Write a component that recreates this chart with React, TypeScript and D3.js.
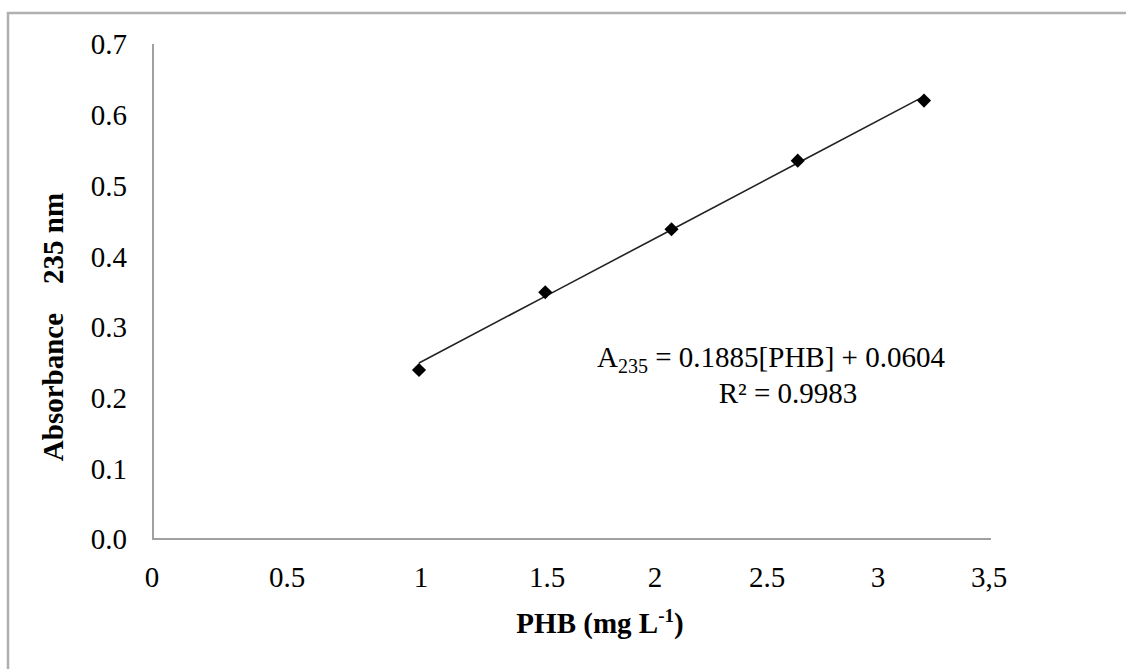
import React from "react";
import { scaleLinear, line, symbol, symbolSquare } from "d3";

// calibration points
const phb = [1, 1.5, 2, 2.5, 3];
const absorbance = [0.239, 0.349, 0.438, 0.535, 0.62];

// linear fit printed on the chart
const slope = 0.1885;
const intercept = 0.0604;
const rSquared = "0.9983";

const xTicks = [0, 0.5, 1, 1.5, 2, 2.5, 3, 3.5];
const xTickLabels = ["0", "0.5", "1", "1.5", "2", "2.5", "3", "3,5"];
const yTicks = [0, 0.1, 0.2, 0.3, 0.4, 0.5, 0.6, 0.7];

const W = 1126;
const H = 669;
const plot = { left: 153, right: 991, top: 44, bottom: 539 };
const font = "'Liberation Serif', 'Times New Roman', serif";
const axisGrey = "#a0a0a0";

function App() {
  // the source figure's tick labels do not sit under its points,
  // so labels and markers each get their own scale
  const xLabel = scaleLinear()
    .domain(xTicks)
    .range([152, 287, 421, 547, 655, 767, 878, 989]);
  const x = scaleLinear().domain([1, 3]).range([419, 924]);
  const y = scaleLinear().domain([0, 0.7]).range([plot.bottom, plot.top]);

  const fit = phb.map((v) => [v, slope * v + intercept]);
  const fitLine = line()
    .x((d) => x(d[0]))
    .y((d) => y(d[1]));

  // Excel style diamond = rotated square
  const diamond = symbol().type(symbolSquare).size(100)();

  return (
    <svg
      width={W}
      height={H}
      style={{ position: "absolute", left: 0, top: 0, background: "#fff" }}
      fontFamily={font}
    >
      {/* outer chart frame, only top and left edges show */}
      <path
        d={`M8,${H} V13 H${W}`}
        fill="none"
        stroke="#b0b0b0"
        strokeWidth={2.5}
      />

      {/* axes */}
      <path
        d={`M${plot.left},${plot.top} V${plot.bottom} H${plot.right}`}
        fill="none"
        stroke={axisGrey}
        strokeWidth={2}
      />

      {/* y tick labels */}
      {yTicks.map((t) => (
        <text
          key={t}
          x={127}
          y={y(t)}
          dy="0.36em"
          textAnchor="end"
          fontSize={29}
          fill="#000"
        >
          {t.toFixed(1)}
        </text>
      ))}

      {/* x tick labels */}
      {xTicks.map((t, i) => (
        <text
          key={t}
          x={xLabel(t)}
          y={587}
          textAnchor="middle"
          fontSize={29}
          fill="#000"
        >
          {xTickLabels[i]}
        </text>
      ))}

      {/* trend line */}
      <path d={fitLine(fit)} fill="none" stroke="#222" strokeWidth={1.6} />

      {/* markers */}
      {phb.map((v, i) => (
        <path
          key={v}
          d={diamond}
          transform={`translate(${x(v)},${y(absorbance[i])}) rotate(45)`}
          fill="#000"
        />
      ))}

      {/* equation */}
      <text x={771} y={367} textAnchor="middle" fontSize={29} fill="#000">
        A
        <tspan fontSize={20} dy={6}>
          235
        </tspan>
        <tspan dy={-6}> = 0.1885[PHB] + 0.0604</tspan>
      </text>
      <text x={788} y={403} textAnchor="middle" fontSize={29} fill="#000">
        R² = {rSquared}
      </text>

      {/* axis titles */}
      <text
        x={600}
        y={633}
        textAnchor="middle"
        fontSize={29}
        fontWeight="bold"
        fill="#000"
      >
        PHB (mg L
        <tspan fontSize={19} dy={-11}>
          -1
        </tspan>
        <tspan dy={11}>)</tspan>
      </text>
      <text
        transform="translate(63,327) rotate(-90)"
        textAnchor="middle"
        fontSize={29}
        fontWeight="bold"
        fill="#000"
        style={{ whiteSpace: "pre" }}
      >
        {"Absorbance    235 nm"}
      </text>
    </svg>
  );
}

export default App;
